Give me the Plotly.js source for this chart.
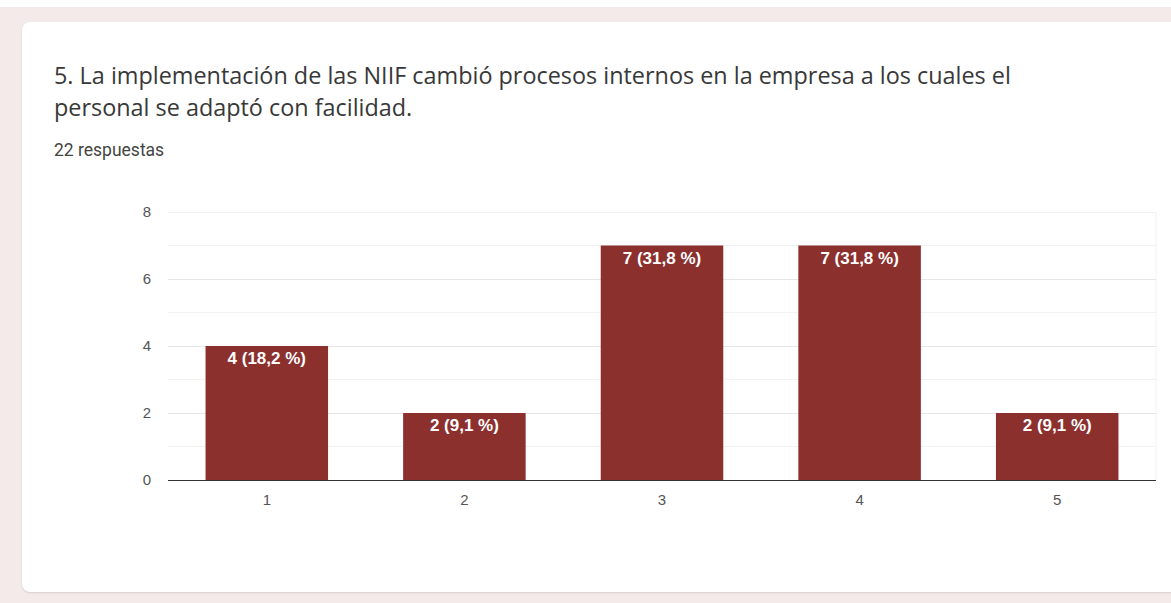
<!DOCTYPE html>
<html>
<head>
<meta charset="utf-8">
<script src="https://cdn.plot.ly/plotly-3.0.1.min.js"></script>
<style>
  html, body { margin: 0; padding: 0; width: 1171px; height: 603px; overflow: hidden; background: #f4eaea; }
  #top { position: absolute; left: 0; top: 0; width: 1171px; height: 7px; background: #ffffff; }
  #card { position: absolute; left: 22px; top: 22px; width: 1160px; height: 570px; background: #ffffff; border-radius: 8px; box-shadow: 0 1px 2px rgba(0,0,0,0.12); }
  #chart { position: absolute; left: 0; top: 0; width: 1171px; height: 603px; }
</style>
</head>
<body>
<div id="top"></div>
<div id="card"></div>
<div id="chart"></div>
<script>
const categories = ["1", "2", "3", "4", "5"];
const counts = [4, 2, 7, 7, 2];
const barLabels = ["4 (18,2 %)", "2 (9,1 %)", "7 (31,8 %)", "7 (31,8 %)", "2 (9,1 %)"];
const yTicks = [0, 2, 4, 6, 8];
const yMax = 8;
const titleLine1 = "5. La implementación de las NIIF cambió procesos internos en la empresa a los cuales el";
const titleLine2 = "personal se adaptó con facilidad.";
const subtitle = "22 respuestas";

const L = 168, R = 15, T = 212, B = 123;
const W = 1171, H = 603;
const pw = W - L - R, ph = H - T - B;
const px = x => (x - L) / pw;
const py = y => (H - B - y) / ph;

const trace = {
  type: "bar",
  x: categories,
  y: counts,
  text: barLabels,
  textposition: "inside",
  insidetextanchor: "end",
  textangle: 0,
  textfont: { family: "Liberation Sans, Arial, sans-serif", size: 17, color: "#ffffff", weight: "bold" },
  marker: { color: "#8c302e" },
  hoverinfo: "none"
};

const layout = {
  width: W, height: H,
  margin: { l: L, r: R, t: T, b: B, pad: 0 },
  paper_bgcolor: "rgba(0,0,0,0)",
  plot_bgcolor: "rgba(0,0,0,0)",
  showlegend: false,
  bargap: 0.38,
  xaxis: {
    type: "category",
    showgrid: false,
    showline: false,
    zeroline: false,
    ticks: "",
    tickfont: { family: "Liberation Sans, Arial, sans-serif", size: 15, color: "#555555" },
    ticklabelstandoff: 9
  },
  yaxis: {
    range: [0, yMax],
    tickvals: yTicks,
    showgrid: true,
    gridcolor: "#e6e6e6",
    minor: { dtick: 1, showgrid: true, gridcolor: "#f2f2f2", tick0: 0 },
    zeroline: true,
    zerolinecolor: "#333333",
    zerolinewidth: 1,
    showline: false,
    ticks: "",
    tickfont: { family: "Liberation Sans, Arial, sans-serif", size: 15, color: "#555555" },
    ticklabelstandoff: 16
  },
  shapes: [
    { type: "line", layer: "below", xref: "paper", yref: "y", x0: 0, x1: 1, y0: yMax, y1: yMax, line: { color: "#e6e6e6", width: 1 } },
    { type: "line", layer: "below", xref: "paper", yref: "paper", x0: 1, x1: 1, y0: 0, y1: 1, line: { color: "#f2f2f2", width: 1 } }
  ],
  annotations: [
    { text: titleLine1, xref: "paper", yref: "paper", x: px(52), y: py(75), xanchor: "left", yanchor: "middle", showarrow: false,
      font: { family: "Open Sans, sans-serif", size: 23.4, color: "#383838" } },
    { text: titleLine2, xref: "paper", yref: "paper", x: px(52), y: py(107), xanchor: "left", yanchor: "middle", showarrow: false,
      font: { family: "Open Sans, sans-serif", size: 23.4, color: "#383838" } },
    { text: subtitle, xref: "paper", yref: "paper", x: px(52), y: py(150), xanchor: "left", yanchor: "middle", showarrow: false,
      font: { family: "Roboto, sans-serif", size: 17.5, color: "#444444" } }
  ]
};

Plotly.newPlot("chart", [trace], layout, { displayModeBar: false, staticPlot: true });
</script>
</body>
</html>
